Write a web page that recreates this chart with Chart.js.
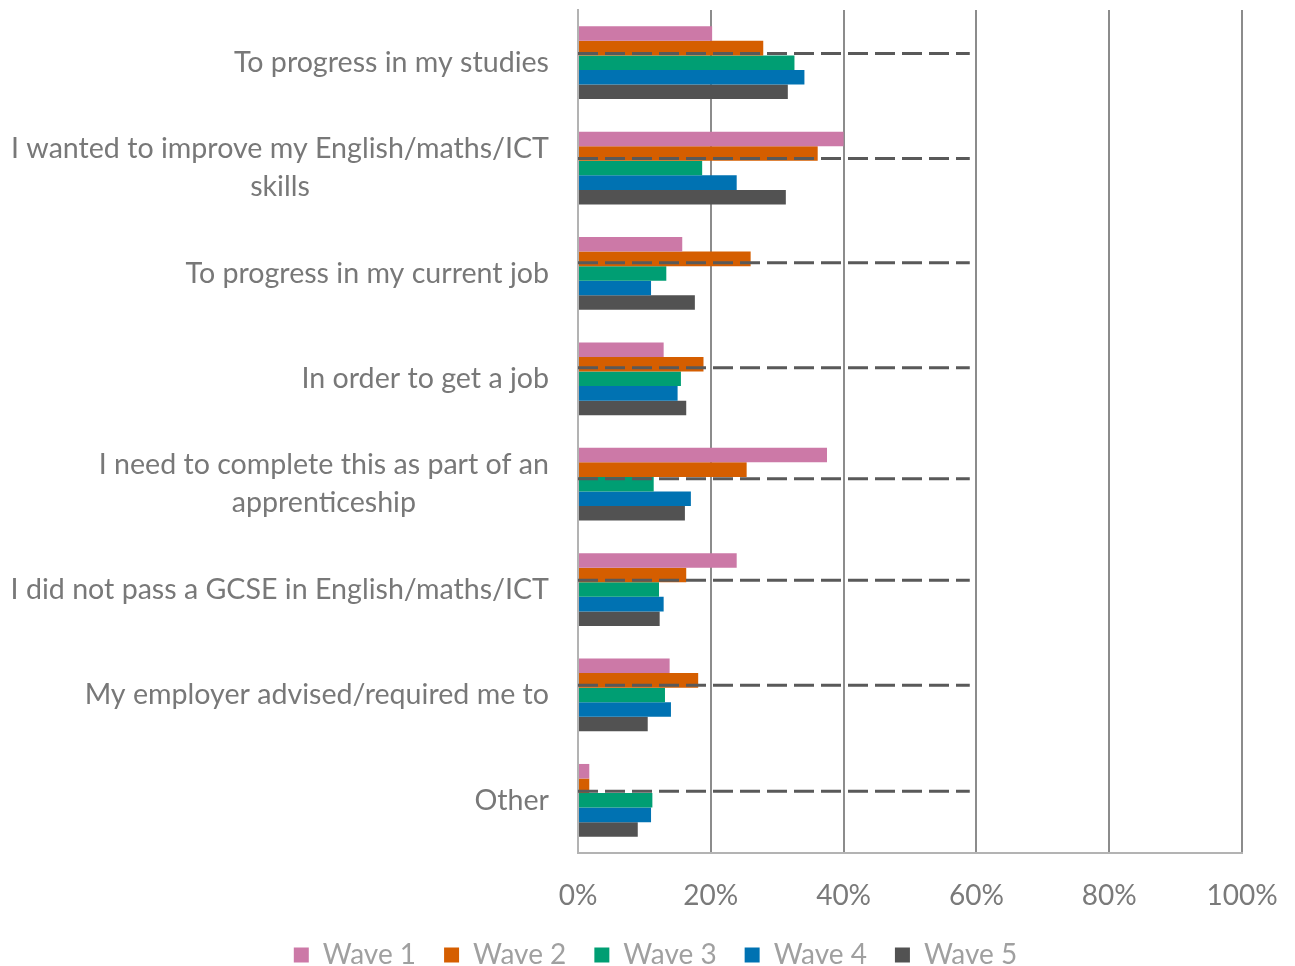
<!DOCTYPE html>
<html>
<head>
<meta charset="utf-8">
<script src="https://cdn.jsdelivr.net/npm/chart.js@4.4.1/dist/chart.umd.min.js"></script>
<style>
  html, body { margin: 0; padding: 0; background: #ffffff; }
  #wrap { width: 1295px; height: 966px; position: relative; }
</style>
</head>
<body>
<div id="wrap"><canvas id="chart"></canvas></div>
<script>
// Reasons for taking the course, share of respondents by survey wave (%)
const categories = [
  ['To progress in my studies'],
  ['I wanted to improve my English/maths/ICT', 'skills'],
  ['To progress in my current job'],
  ['In order to get a job'],
  ['I need to complete this as part of an', 'apprenticeship'],
  ['I did not pass a GCSE in English/maths/ICT'],
  ['My employer advised/required me to'],
  ['Other']
];
const waveNames = ['Wave 1', 'Wave 2', 'Wave 3', 'Wave 4', 'Wave 5'];
const wave1 = [20.2, 40.0, 15.7, 12.9, 37.5, 23.9, 13.8, 1.7];
const wave2 = [27.9, 36.1, 26.0, 18.9, 25.4, 16.3, 18.1, 1.7];
const wave3 = [32.6, 18.7, 13.3, 15.5, 11.4, 12.2, 13.1, 11.2];
const wave4 = [34.1, 23.9, 11.0, 15.0, 17.0, 12.9, 14.0, 11.0];
const wave5 = [31.6, 31.3, 17.6, 16.3, 16.1, 12.3, 10.5, 9.0];
const xTickValues = [0, 20, 40, 60, 80, 100];

// Dashed reference segments: level on the category scale, running from 0 to 59 %
const refLevels = [-0.088, 0.910, 1.898, 2.896, 3.949, 4.911, 5.909, 6.914];
const refFrom = 0;
const refTo = 59;

const waveValues = [wave1, wave2, wave3, wave4, wave5];
const waveColors = ['#CC79A7', '#D55E00', '#009E73', '#0072B2', '#525252'];

const FONT = 'Lato, "Open Sans", sans-serif';
const LABEL_SIZE = 28.6;
const LABEL_LINE = 38;
const LABEL_GAP = 29;
const PAD_LEFT = 16;

// Category labels: block right-aligned against the axis, lines centred within the block
const categoryLabels = {
  id: 'categoryLabels',
  afterDraw(chart) {
    const ctx = chart.ctx;
    const yScale = chart.scales.y;
    const right = chart.chartArea.left - LABEL_GAP;
    ctx.save();
    ctx.font = LABEL_SIZE + 'px ' + FONT;
    ctx.fillStyle = '#787878';
    ctx.textAlign = 'center';
    ctx.textBaseline = 'middle';
    categories.forEach((lines, i) => {
      const cy = yScale.getPixelForTick(i);
      const maxW = Math.max(...lines.map(l => ctx.measureText(l).width));
      const cx = right - maxW / 2;
      const startY = cy - (lines.length - 1) * LABEL_LINE / 2;
      lines.forEach((l, k) => ctx.fillText(l, cx, startY + k * LABEL_LINE));
    });
    ctx.restore();
  }
};

// Dashed reference segments drawn over the bars through the chart's scales
const refLines = {
  id: 'refLines',
  afterDatasetsDraw(chart) {
    const ctx = chart.ctx;
    const xs = chart.scales.x;
    const ys = chart.scales.y;
    ctx.save();
    ctx.strokeStyle = '#595959';
    ctx.lineWidth = 3;
    ctx.setLineDash([20, 7]);
    refLevels.forEach(lvl => {
      const y = ys.getPixelForValue(lvl);
      ctx.beginPath();
      ctx.moveTo(xs.getPixelForValue(refFrom), y);
      ctx.lineTo(xs.getPixelForValue(refTo), y);
      ctx.stroke();
    });
    ctx.restore();
  }
};

// Legend keeps wide spacing between items but a compact height
const legendHeight = {
  id: 'legendHeight',
  afterInit(chart) {
    const lg = chart.legend;
    if (!lg) return;
    const origFit = lg.fit;
    lg.fit = function () {
      origFit.call(this);
      this.height = 53;
    };
  }
};

new Chart(document.getElementById('chart'), {
  type: 'bar',
  data: {
    labels: categories.map(c => c.join(' ')),
    datasets: waveValues.map((vals, i) => ({
      label: waveNames[i],
      data: vals,
      backgroundColor: waveColors[i],
      borderWidth: 0,
      categoryPercentage: 0.69,
      barPercentage: 1.0
    }))
  },
  options: {
    indexAxis: 'y',
    responsive: true,
    maintainAspectRatio: false,
    animation: false,
    layout: { padding: { top: 10, right: 0, left: PAD_LEFT, bottom: 0 } },
    scales: {
      x: {
        type: 'linear',
        min: 0,
        max: 100,
        afterBuildTicks(scale) { scale.ticks = xTickValues.map(v => ({ value: v })); },
        afterFit(scale) { scale.height = 60; scale.paddingRight = 53; },
        grid: { color: '#8c8c8c', lineWidth: 2, drawTicks: false },
        border: { display: true, color: '#b3b3b3', width: 2 },
        ticks: {
          padding: 26,
          color: '#7a7a7a',
          font: { family: FONT, size: 28 },
          maxRotation: 0,
          callback: v => v + '%'
        }
      },
      y: {
        type: 'category',
        offset: true,
        afterFit(scale) { scale.width = 578 - PAD_LEFT; },
        grid: { display: false, drawTicks: false },
        border: { display: true, color: '#b3b3b3', width: 2 },
        ticks: { display: false }
      }
    },
    plugins: {
      legend: {
        position: 'bottom',
        labels: {
          boxWidth: 15,
          boxHeight: 15,
          padding: 28,
          color: '#a0a0a0',
          font: { family: FONT, size: 28 }
        }
      },
      tooltip: { enabled: false }
    }
  },
  plugins: [categoryLabels, refLines, legendHeight]
});
</script>
</body>
</html>
